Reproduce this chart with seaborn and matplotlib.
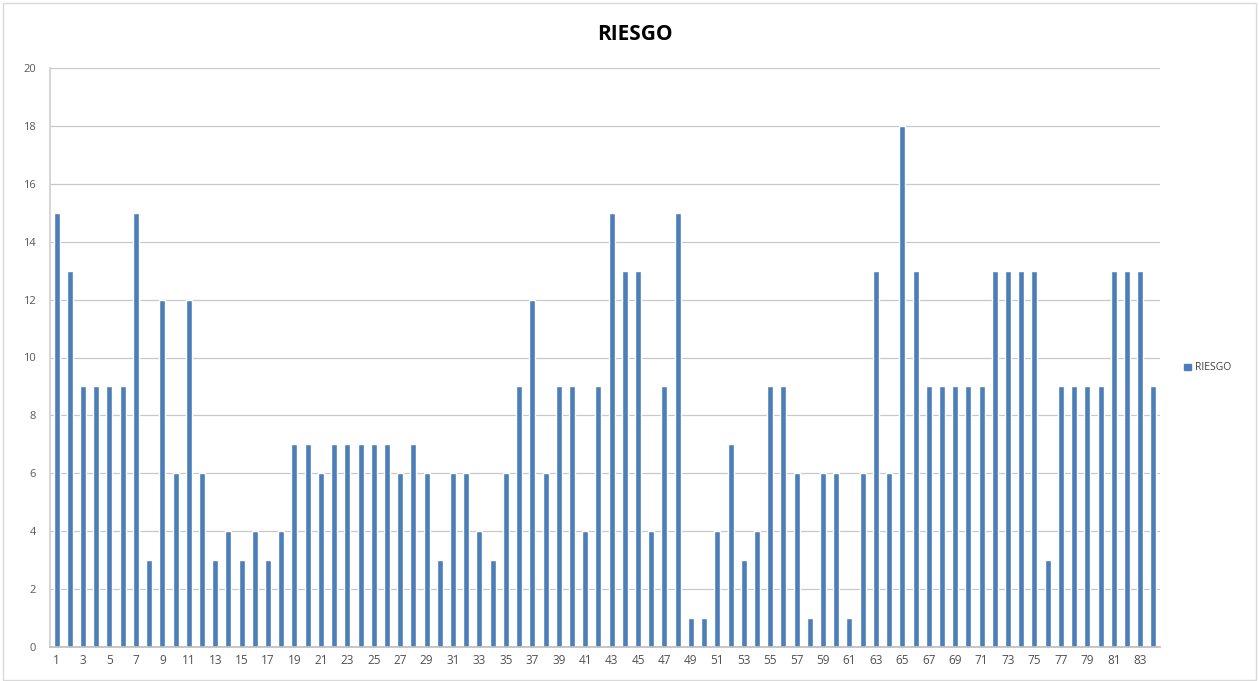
import matplotlib
matplotlib.use("Agg")
import matplotlib.pyplot as plt
import seaborn as sns
import pandas as pd
from matplotlib.patches import Rectangle

categories = [str(i) for i in range(1, 85)]
riesgo = [15, 13, 9, 9, 9, 9, 15, 3, 12, 6, 12, 6, 3, 4, 3, 4, 3, 4, 7, 7,
          6, 7, 7, 7, 7, 7, 6, 7, 6, 3, 6, 6, 4, 3, 6, 9, 12, 6, 9, 9,
          4, 9, 15, 13, 13, 4, 9, 15, 1, 1, 4, 7, 3, 4, 9, 9, 6, 1, 6, 6,
          1, 6, 13, 6, 18, 13, 9, 9, 9, 9, 9, 13, 13, 13, 13, 3, 9, 9, 9, 9,
          13, 13, 13, 9]
series_name = "RIESGO"
y_ticks = list(range(0, 21, 2))

df = pd.DataFrame({"cat": categories, "val": riesgo})

sns.set_theme(style="white")
plt.rcParams['font.family'] = ['Open Sans', 'DejaVu Sans']

fig = plt.figure(figsize=(12.59, 6.81), dpi=100)
ax = fig.add_axes([50/1259, 1-647/681, 1110/1259, (647-68)/681])

bar_color = "#4C7FB9"
sns.barplot(data=df, x="cat", y="val", color=bar_color, width=0.45,
            saturation=1, ax=ax, order=categories)

ax.set_ylim(0, 20)
ax.set_xlim(-0.5, len(categories) - 0.5)
ax.set_yticks(y_ticks)
ax.set_yticklabels([str(t) for t in y_ticks], fontsize=8, color="#595959")
ax.set_xticks(range(0, len(categories), 2))
ax.set_xticklabels([categories[i] for i in range(0, len(categories), 2)],
                   fontsize=8.5, color="#505050")
ax.set_xticks([i + 0.5 for i in range(-1, len(categories))], minor=True)
ax.tick_params(axis="x", which="major", length=0, pad=5)
ax.tick_params(axis="x", which="minor", length=4, color="#bfbfbf", width=0.8)
ax.tick_params(axis="y", length=0, pad=10)
ax.set_xlabel("")
ax.set_ylabel("")
ax.yaxis.grid(True, color="#c8c8c8", linewidth=0.9)
ax.set_axisbelow(True)
for s in ["top", "right"]:
    ax.spines[s].set_visible(False)
ax.spines["left"].set_color("#d0d0d0")
ax.spines["bottom"].set_color("#bfbfbf")

fig.text(635/1259, 1-35/681, "RIESGO", ha="center", va="center",
         fontsize=15, fontweight="bold", color="#000000")

# legend
leg = ax.legend(handles=[Rectangle((0, 0), 1, 1, color=bar_color)], labels=[series_name],
                loc="center left", bbox_to_anchor=(1175/1259, 1-368/681),
                bbox_transform=fig.transFigure, frameon=False, fontsize=7.5,
                handlelength=0.6, handleheight=0.6, handletextpad=0.4)
for t in leg.get_texts():
    t.set_color("#404040")

# figure border
fig.patches.append(Rectangle((0.002, 0.002), 0.996, 0.993, transform=fig.transFigure,
                             fill=False, edgecolor="#d9d9d9", linewidth=1))

fig.savefig("out.png", dpi=100)
